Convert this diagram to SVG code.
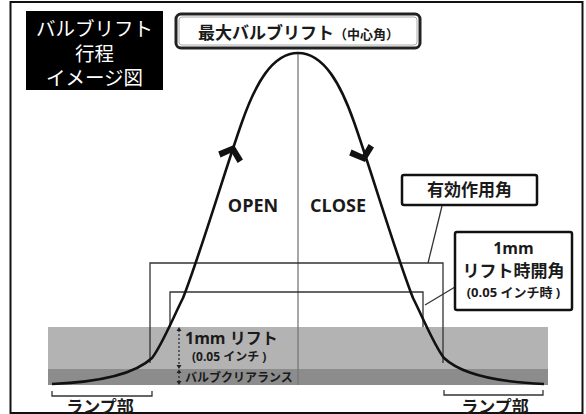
<svg xmlns="http://www.w3.org/2000/svg" width="586" height="414" viewBox="0 0 586 414">
<defs>
<style>
.t{font-family:"Open Sans","Noto Sans CJK JP",sans-serif;font-weight:bold;fill:#1a1a1a}
.j{font-family:"Noto Sans CJK JP",sans-serif}
.thin{fill:none;stroke:#333;stroke-width:1.3}
.box{fill:#fff;stroke:#111;stroke-width:2.5}
</style>
<polygon id="chev" points="0,0 13,11 9,16 0,8 -9,16 -13,11" fill="#111"/>
</defs>
<rect x="10.5" y="2" width="572" height="411" fill="#fff" stroke="#111" stroke-width="2"/>

<g id="band">
<rect x="48" y="327" width="500" height="42" fill="#b3b3b3"/>
<rect x="48" y="369" width="500" height="16" fill="#8c8c8c"/>
</g>

<g id="connectors">
<line x1="298" y1="53" x2="298" y2="385" stroke="#777" stroke-width="1.3"/>
<path class="thin" d="M150,363 V263 H443 V363"/>
<path class="thin" d="M170,327 V292 H423 V327"/>
<line class="thin" x1="442" y1="206" x2="428" y2="263"/>
<line class="thin" x1="455" y1="287" x2="425" y2="305"/>
<path class="thin" d="M52,391 V396 H152 V391"/>
<path class="thin" d="M444,390 V395 H543 V390"/>
<line x1="179" y1="330" x2="179" y2="367" stroke="#222" stroke-width="1.2" stroke-dasharray="2,2"/>
<line x1="179" y1="372" x2="179" y2="383" stroke="#222" stroke-width="1.2" stroke-dasharray="2,2"/>
<path d="M176.5,331 L179,327 L181.5,331 Z M176.5,365 L179,369 L181.5,365 Z M176.5,373 L179,369.5 L181.5,373 Z M176.5,381 L179,385 L181.5,381 Z" fill="#222"/>
</g>

<g id="curve">
<path d="M52,384 C100,382 135,374 152,358 C162,345 172,320 183,298 C200,255 225,170 242,122 C255,85 272,53 298,53 C324,53 341,85 354,122 C371,170 396,255 413,298 C424,320 434,345 444,358 C461,374 496,382 544,384" fill="none" stroke="#111" stroke-width="2.6"/>
<use href="#chev" transform="translate(234,145) rotate(18)"/>
<use href="#chev" transform="translate(365,162) rotate(162)"/>
</g>

<g id="label-box">
<rect x="26" y="11" width="137" height="79" fill="#000"/>
<text class="j" x="94.5" y="36" font-size="19.5" fill="#fff" text-anchor="middle">バルブリフト</text>
<text class="j" x="94.5" y="61" font-size="19.5" fill="#fff" text-anchor="middle">行程</text>
<text class="j" x="94.5" y="85" font-size="19.5" fill="#fff" text-anchor="middle">イメージ図</text>
</g>

<g id="title">
<rect x="176" y="14" width="244" height="34" rx="5" fill="#fff" stroke="#222" stroke-width="3"/>
<rect x="179" y="17" width="238" height="28" rx="3" fill="none" stroke="#aaa" stroke-width="1"/>
<text class="t" x="298.5" y="39" font-size="17" text-anchor="middle">最大バルブリフト<tspan font-size="13">（中心角）</tspan></text>
</g>

<g id="open"><text class="t" x="253" y="212" font-size="18" text-anchor="middle">OPEN</text></g>
<g id="close"><text class="t" x="338" y="212" font-size="18" text-anchor="middle">CLOSE</text></g>

<g id="effective">
<rect class="box" x="402" y="175" width="135" height="30" rx="2"/>
<text class="t" x="469.5" y="196" font-size="17" text-anchor="middle">有効作用角</text>
</g>

<g id="lift-open">
<rect class="box" x="455" y="232" width="117" height="78" rx="2"/>
<text class="t" x="513.5" y="254" font-size="16" text-anchor="middle">1mm</text>
<text class="t" x="513.5" y="277" font-size="17" text-anchor="middle">リフト時開角</text>
<text class="t" x="513.5" y="297" font-size="13" text-anchor="middle">(0.05 インチ時 )</text>
</g>

<g id="lift-label">
<text class="t" x="185" y="344" font-size="16">1mm リフト</text>
<text class="t" x="192" y="361" font-size="12">(0.05 インチ )</text>
<text class="t" x="185" y="382" font-size="12">バルブクリアランス</text>
</g>

<g id="ramp-left"><text class="t" x="100" y="413" font-size="17" text-anchor="middle">ランプ部</text></g>
<g id="ramp-right"><text class="t" x="495" y="413" font-size="17" text-anchor="middle">ランプ部</text></g>
</svg>
